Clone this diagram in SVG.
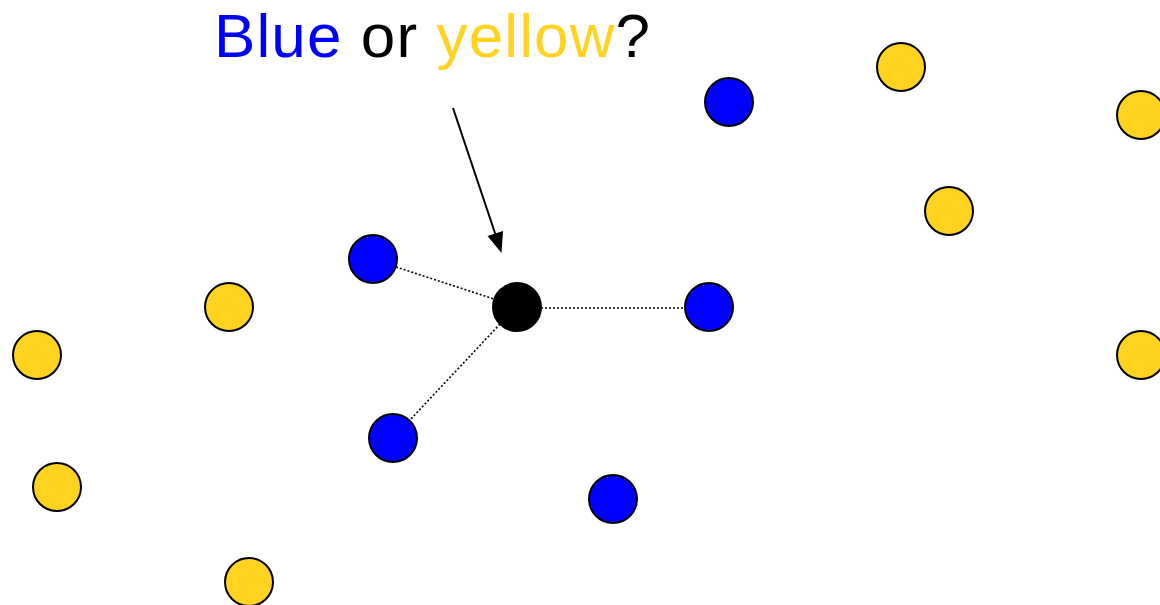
<svg xmlns="http://www.w3.org/2000/svg" width="1160" height="605" viewBox="0 0 1160 605">
<style>
.y{fill:#FFD320;stroke:#000;stroke-width:2}
.b{fill:#0000FF;stroke:#000;stroke-width:2}
.k{fill:#000;stroke:#000;stroke-width:2}
.d{stroke:#000;stroke-width:1.6;stroke-dasharray:2 2;fill:none}
.t{font-family:"Liberation Sans",Arial,sans-serif;font-size:62px}
</style>
<rect width="1160" height="605" fill="#fff"/>
<g id="connectors">
<line class="d" x1="396" y1="267" x2="494" y2="299"/>
<line class="d" x1="541" y1="308" x2="685" y2="308"/>
<line class="d" x1="500" y1="324" x2="410" y2="420"/>
<path d="M453,108 L499,245" stroke="#000" stroke-width="2" fill="none"/>
<path d="M487.5,236 L501.5,253 L503,231 z" fill="#000"/>
</g>
<g id="title"><text class="t" x="214" y="57" textLength="436" lengthAdjust="spacing"><tspan fill="#0000FF">Blue</tspan><tspan fill="#000"> or </tspan><tspan fill="#FFD320">yellow</tspan><tspan fill="#000">?</tspan></text></g>
<g id="query"><circle class="k" cx="517" cy="307" r="24"/></g>
<g id="b1"><circle class="b" cx="729" cy="102" r="24"/></g>
<g id="b2"><circle class="b" cx="373" cy="259" r="24"/></g>
<g id="b3"><circle class="b" cx="709" cy="307" r="24"/></g>
<g id="b4"><circle class="b" cx="393" cy="438" r="24"/></g>
<g id="b5"><circle class="b" cx="613" cy="499" r="24"/></g>
<g id="y1"><circle class="y" cx="901" cy="67" r="24"/></g>
<g id="y2"><circle class="y" cx="1141" cy="115" r="24"/></g>
<g id="y3"><circle class="y" cx="949" cy="211" r="24"/></g>
<g id="y4"><circle class="y" cx="229" cy="307" r="24"/></g>
<g id="y5"><circle class="y" cx="37" cy="355" r="24"/></g>
<g id="y6"><circle class="y" cx="1141" cy="355" r="24"/></g>
<g id="y7"><circle class="y" cx="57" cy="487" r="24"/></g>
<g id="y8"><circle class="y" cx="249" cy="582" r="24"/></g>
</svg>
